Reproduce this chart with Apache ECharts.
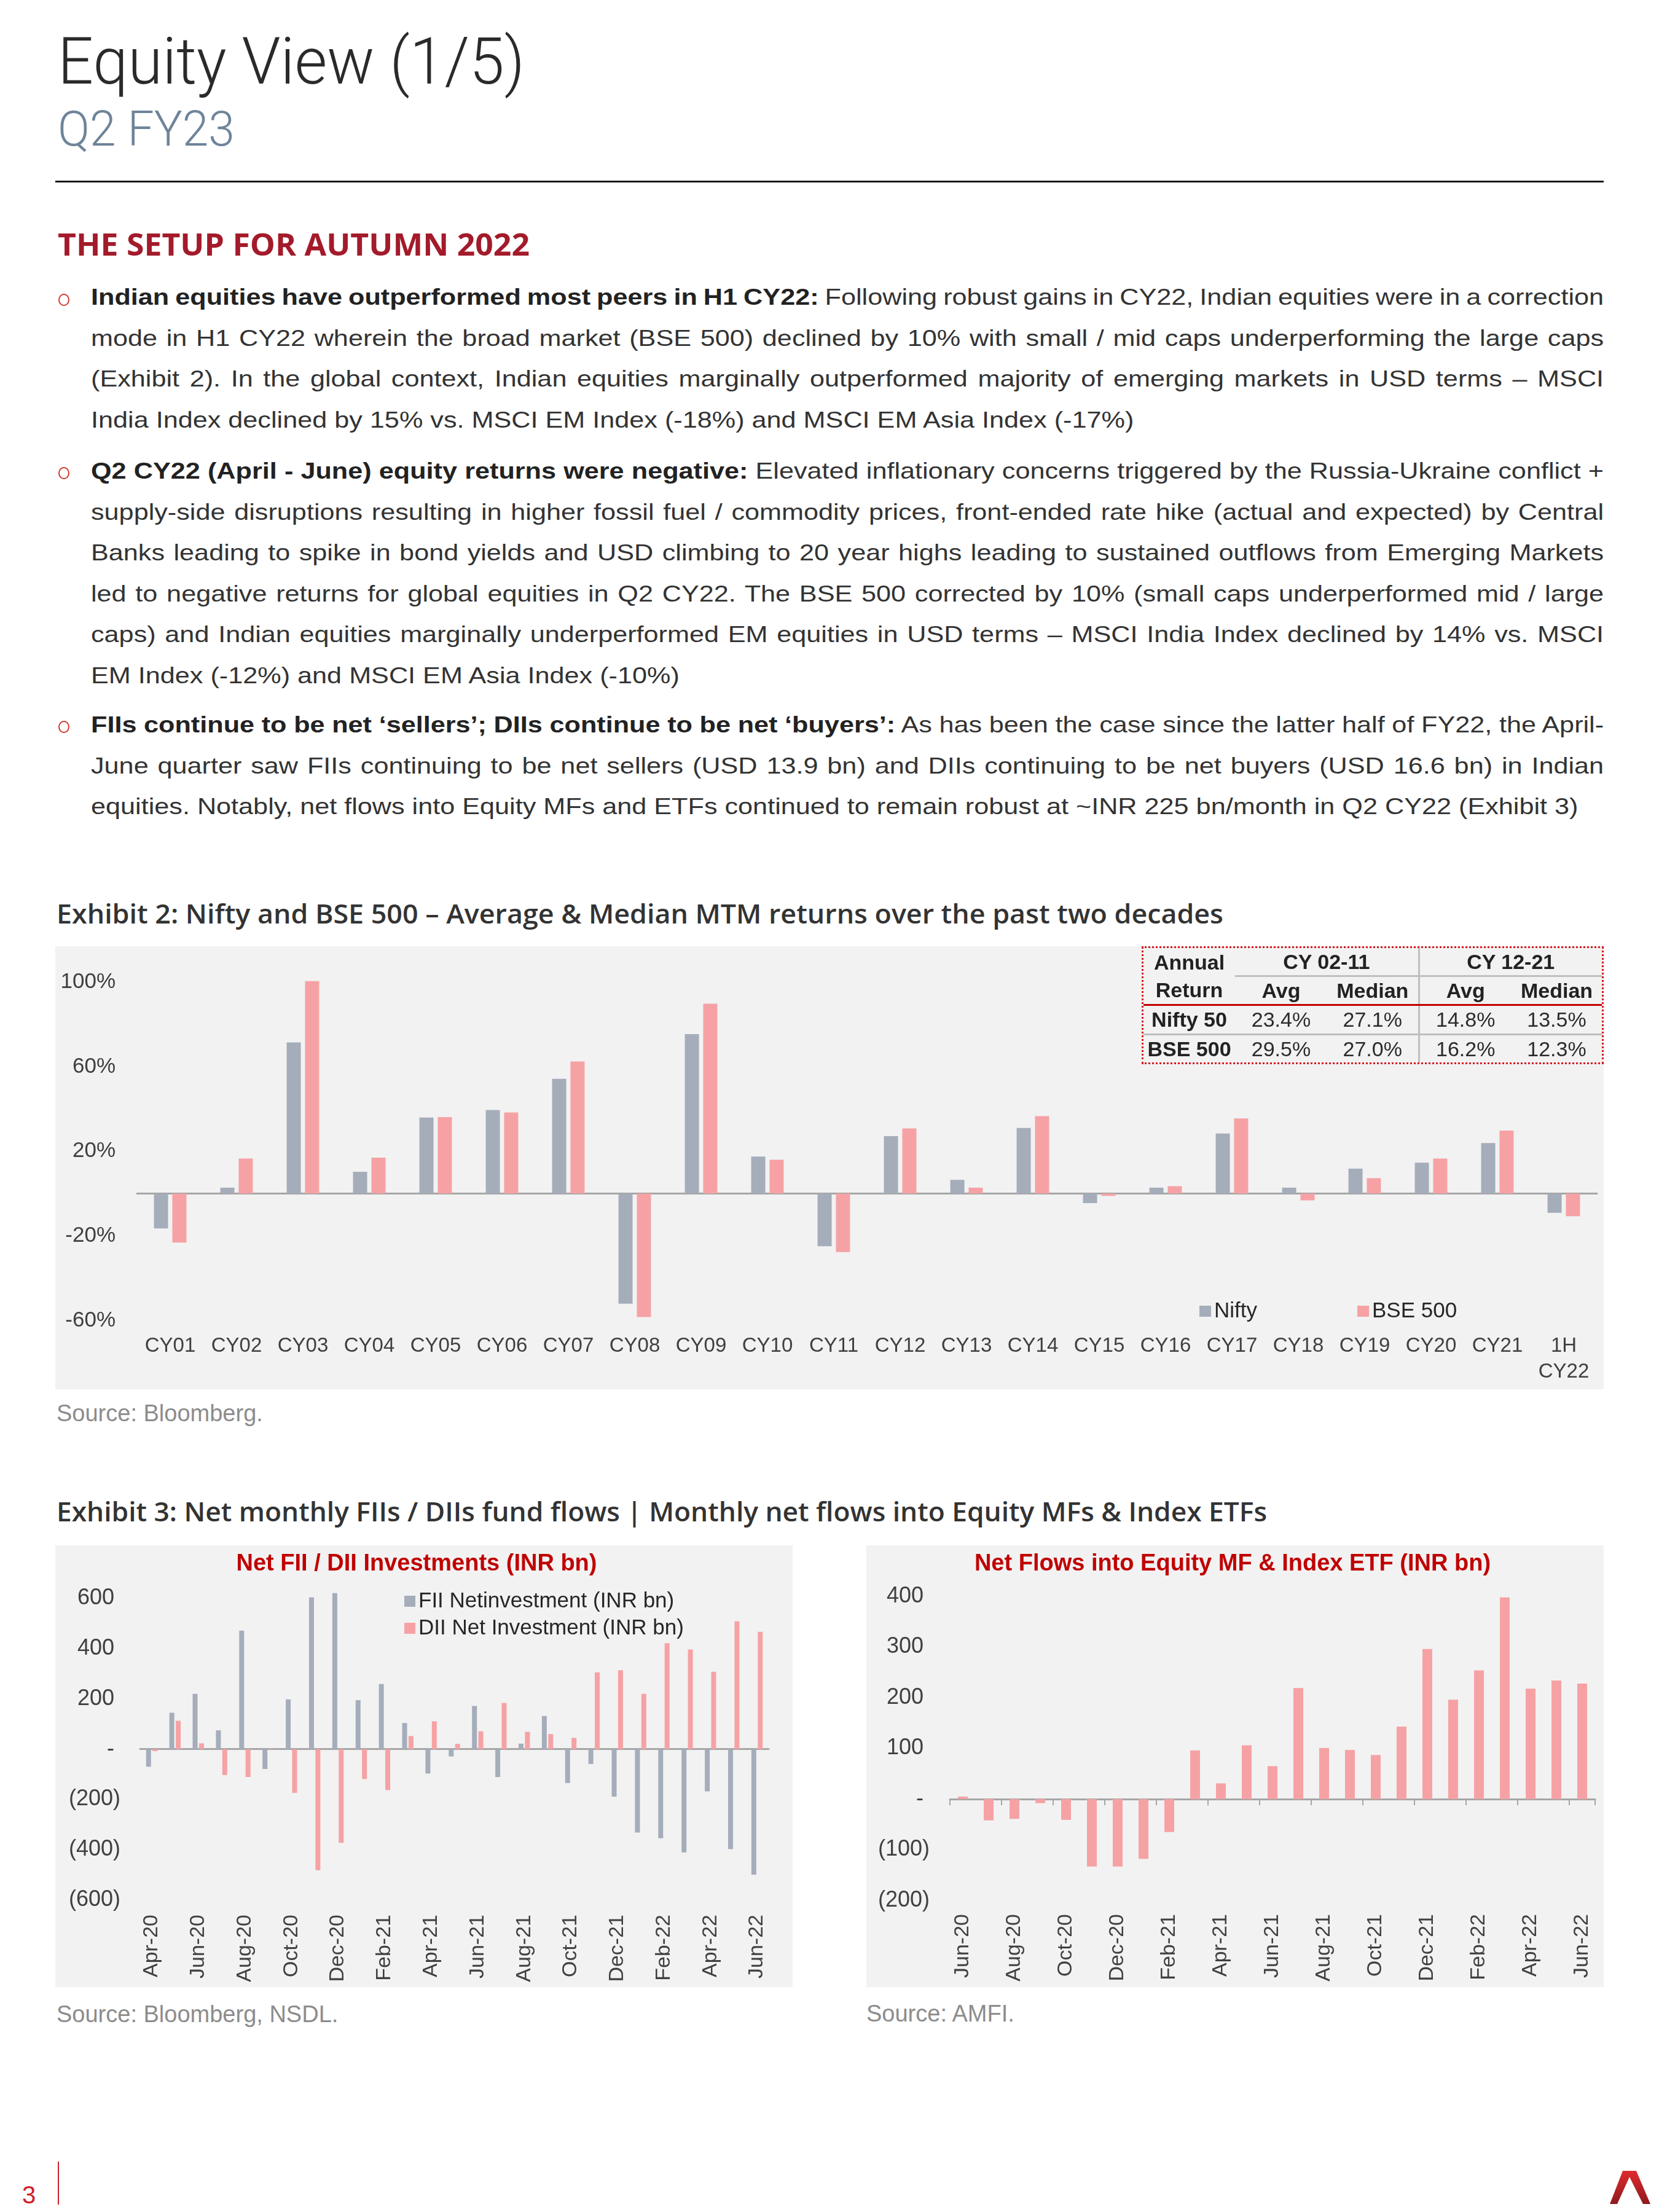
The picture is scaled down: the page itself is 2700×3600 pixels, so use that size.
<!DOCTYPE html>
<html>
<head>
<meta charset="utf-8">
<title>Equity View (1/5)</title>
<script src="https://cdn.jsdelivr.net/npm/echarts@6/dist/echarts.min.js"></script>
<style>
html,body{margin:0;padding:0;background:#fff;}
body{width:2700px;height:3600px;position:relative;overflow:hidden;font-family:'Liberation Sans',Arial,sans-serif;}
.t{position:absolute;white-space:nowrap;}
.t span{display:inline-block;transform-origin:0 50%;}
.para{position:absolute;left:148px;width:2462px;color:#333;font-size:37px;}
.para .ln{height:66.5px;line-height:66.5px;white-space:nowrap;}
.para .ln span{display:inline-block;transform-origin:0 50%;}
.para b{color:#222;font-weight:700;}
.bul{position:absolute;left:95px;width:18px;height:20px;border:2.5px solid #d0392e;border-radius:50%;box-sizing:border-box;}
.chart{position:absolute;background:#f2f2f2;}
#tbl{position:absolute;left:1858px;top:1540px;width:752px;height:192px;border:3px dotted #d7191f;box-sizing:border-box;z-index:5;}
#tbl table{border-collapse:collapse;table-layout:fixed;width:746px;height:186px;font-family:'Liberation Sans',Arial,sans-serif;font-size:34px;}
#tbl td{padding:0;text-align:center;vertical-align:middle;line-height:1;color:#2b2b2b;white-space:nowrap;overflow:visible;}
#tbl td.b{font-weight:700;color:#222;}
#tbl td.g{border-bottom:3px solid #bfbfbf;}
#tbl td.l{border-left:3px solid #bfbfbf;}
#tbl tr.red td{border-bottom:3px solid #c00000;}
#tbl tr.grey td{border-bottom:3px solid #bfbfbf;}
.src{position:absolute;color:#8c8c8c;font-size:38px;line-height:38px;white-space:nowrap;}
</style>
</head>
<body>

<div class="t" data-w="760" style="left:94px;top:47px;font:300 106px/106px Roboto,sans-serif;color:#2a2a2a;"><span>Equity View (1/5)</span></div>
<div class="t" data-w="288" style="left:94px;top:171px;font:300 79px/79px Roboto,sans-serif;color:#6e8499;"><span>Q2 FY23</span></div>
<div style="position:absolute;left:90px;top:294px;width:2520px;height:3px;background:#1a1a1a;"></div>
<div class="t" data-w="768" style="left:94px;top:372px;font:700 50px/50px 'Open Sans',sans-serif;color:#a31b2b;"><span>THE SETUP FOR AUTUMN 2022</span></div>

<div class="bul" style="top:478px;"></div>
<div class="para" style="top:451px;">
  <div class="ln"><span><b>Indian equities have outperformed most peers in H1 CY22:</b> Following robust gains in CY22, Indian equities were in a correction</span></div>
  <div class="ln"><span>mode in H1 CY22 wherein the broad market (BSE 500) declined by 10% with small / mid caps underperforming the large caps</span></div>
  <div class="ln"><span>(Exhibit 2). In the global context, Indian equities marginally outperformed majority of emerging markets in USD terms – MSCI</span></div>
  <div class="ln last"><span>India Index declined by 15% vs. MSCI EM Index (-18%) and MSCI EM Asia Index (-17%)</span></div>
</div>

<div class="bul" style="top:760px;"></div>
<div class="para" style="top:734px;">
  <div class="ln"><span><b>Q2 CY22 (April - June) equity returns were negative:</b> Elevated inflationary concerns triggered by the Russia-Ukraine conflict +</span></div>
  <div class="ln"><span>supply-side disruptions resulting in higher fossil fuel / commodity prices, front-ended rate hike (actual and expected) by Central</span></div>
  <div class="ln"><span>Banks leading to spike in bond yields and USD climbing to 20 year highs leading to sustained outflows from Emerging Markets</span></div>
  <div class="ln"><span>led to negative returns for global equities in Q2 CY22. The BSE 500 corrected by 10% (small caps underperformed mid / large</span></div>
  <div class="ln"><span>caps) and Indian equities marginally underperformed EM equities in USD terms – MSCI India Index declined by 14% vs. MSCI</span></div>
  <div class="ln last"><span>EM Index (-12%) and MSCI EM Asia Index (-10%)</span></div>
</div>

<div class="bul" style="top:1173px;"></div>
<div class="para" style="top:1147px;">
  <div class="ln"><span><b>FIIs continue to be net ‘sellers’; DIIs continue to be net ‘buyers’:</b> As has been the case since the latter half of FY22, the April-</span></div>
  <div class="ln"><span>June quarter saw FIIs continuing to be net sellers (USD 13.9 bn) and DIIs continuing to be net buyers (USD 16.6 bn) in Indian</span></div>
  <div class="ln last"><span>equities. Notably, net flows into Equity MFs and ETFs continued to remain robust at ~INR 225 bn/month in Q2 CY22 (Exhibit 3)</span></div>
</div>

<div class="t" data-w="1899" style="left:92px;top:1464px;font:600 44px/44px 'Open Sans',sans-serif;color:#333;"><span>Exhibit 2: Nifty and BSE 500 – Average &amp; Median MTM returns over the past two decades</span></div>

<div id="chartA" class="chart" style="left:90px;top:1540px;width:2520px;height:721px;"></div>

<div id="tbl">
<table>
<colgroup><col style="width:149px"><col style="width:150px"><col style="width:149px"><col style="width:151px"><col style="width:147px"></colgroup>
<tr style="height:45px"><td class="b">Annual</td><td class="b g" colspan="2">CY 02-11</td><td class="b g l" colspan="2">CY 12-21</td></tr>
<tr style="height:47px" class="red"><td class="b">Return</td><td class="b">Avg</td><td class="b">Median</td><td class="b l">Avg</td><td class="b">Median</td></tr>
<tr style="height:48px" class="grey"><td class="b">Nifty 50</td><td>23.4%</td><td>27.1%</td><td class="l">14.8%</td><td>13.5%</td></tr>
<tr style="height:46px"><td class="b">BSE 500</td><td>29.5%</td><td>27.0%</td><td class="l">16.2%</td><td>12.3%</td></tr>
</table>
</div>

<div class="src" style="left:92px;top:2281px;">Source: Bloomberg.</div>

<div class="t" data-w="1970" style="left:92px;top:2437px;font:600 44px/44px 'Open Sans',sans-serif;color:#333;"><span>Exhibit 3: Net monthly FIIs / DIIs fund flows | Monthly net flows into Equity MFs &amp; Index ETFs</span></div>

<div id="chartB" class="chart" style="left:90px;top:2515px;width:1200px;height:719px;"></div>
<div id="chartC" class="chart" style="left:1410px;top:2515px;width:1200px;height:719px;"></div>

<div class="src" style="left:92px;top:3259px;">Source: Bloomberg, NSDL.</div>
<div class="src" style="left:1410px;top:3258px;">Source: AMFI.</div>

<div style="position:absolute;left:36px;top:3552px;font:40px/40px 'Liberation Sans',Arial,sans-serif;color:#d0202a;">3</div>
<div style="position:absolute;left:94px;top:3518px;width:2px;height:70px;background:#d0202a;"></div>
<svg style="position:absolute;left:2618px;top:3530px;" width="70" height="60" viewBox="0 0 70 60">
  <defs><linearGradient id="lg" x1="0" y1="0" x2="0" y2="1"><stop offset="0" stop-color="#e02a2f"/><stop offset="1" stop-color="#8e1a1d"/></linearGradient></defs>
  <polygon points="23,3 45,3 68,57 56,57 34,13 14,57 2,57" fill="url(#lg)"/>
</svg>

<script>
// ---------- Exhibit 2 data ----------
const cyCategories = ['CY01','CY02','CY03','CY04','CY05','CY06','CY07','CY08','CY09','CY10','CY11',
  'CY12','CY13','CY14','CY15','CY16','CY17','CY18','CY19','CY20','CY21','1H\nCY22'];
const niftyReturns = [-16.5, 2.8, 71.5, 10.3, 36.0, 39.5, 54.3, -52.1, 75.4, 17.5, -24.9,
  27.2, 6.5, 31.0, -4.5, 2.8, 28.4, 2.8, 11.8, 14.6, 23.9, -9.1];
const bse500Returns = [-23.2, 16.6, 100.5, 17.0, 36.2, 38.4, 62.5, -58.4, 89.8, 16.0, -27.7,
  30.8, 2.8, 36.6, -1.1, 3.5, 35.5, -3.2, 7.3, 16.6, 29.8, -10.7];

// ---------- Exhibit 3 (left) data ----------
const flowMonths = ['Apr-20','May-20','Jun-20','Jul-20','Aug-20','Sep-20','Oct-20','Nov-20','Dec-20',
  'Jan-21','Feb-21','Mar-21','Apr-21','May-21','Jun-21','Jul-21','Aug-21','Sep-21','Oct-21','Nov-21','Dec-21',
  'Jan-22','Feb-22','Mar-22','Apr-22','May-22','Jun-22'];
const fiiNet = [-70, 145, 220, 75, 472, -79, 198, 604, 621, 195, 259, 104, -97, -29, 172, -111, 22, 132,
  -135, -59, -189, -332, -355, -411, -168, -398, -500];
const diiNet = [-8, 113, 23, -103, -111, 2, -174, -482, -373, -119, -163, 52, 111, 21, 71, 184, 69, 60,
  45, 306, 314, 220, 422, 397, 308, 509, 467];

// ---------- Exhibit 3 (right) data ----------
const mfMonths = ['Jun-20','Jul-20','Aug-20','Sep-20','Oct-20','Nov-20','Dec-20','Jan-21','Feb-21','Mar-21',
  'Apr-21','May-21','Jun-21','Jul-21','Aug-21','Sep-21','Oct-21','Nov-21','Dec-21','Jan-22','Feb-22','Mar-22',
  'Apr-22','May-22','Jun-22'];
const mfEtfFlows = [5, -42, -39, -8, -41, -133, -133, -118, -65, 96, 31, 106, 65, 219, 101, 97, 87, 143,
  296, 196, 254, 398, 218, 234, 228];

const GREY = '#a5adbb', PINK = '#f6a2a5', AXIS = '#a6a6a6', LBL = '#404040';
const FONT = "'Liberation Sans', Arial, sans-serif";
const acct = v => v === 0 ? '- ' : (v < 0 ? '(' + (-v) + ')' : v + ' ');

// ---------- Chart A ----------
const chartA = echarts.init(document.getElementById('chartA'));
chartA.setOption({
  animation: false,
  backgroundColor: '#f2f2f2',
  textStyle: { fontFamily: FONT },
  legend: {
    left: 1857, top: 569, itemWidth: 19, itemHeight: 18, itemGap: 163, icon: 'rect',
    textStyle: { fontSize: 35, color: '#262626', lineHeight: 40, fontFamily: FONT },
    data: ['Nifty', 'BSE 500']
  },
  grid: { left: 133, right: 11, top: 24, bottom: 112 },
  xAxis: [
    { type: 'category', data: cyCategories, position: 'bottom',
      axisLine: { show: false, onZero: false }, axisTick: { show: false },
      axisLabel: { fontSize: 33, color: LBL, margin: 21, lineHeight: 42, interval: 0, fontFamily: FONT } },
    { type: 'category', data: cyCategories, position: 'top',
      axisLine: { show: true, onZero: true, lineStyle: { color: AXIS, width: 3 } },
      axisTick: { show: false }, axisLabel: { show: false } }
  ],
  yAxis: {
    type: 'value', min: -60, max: 110, interval: 40,
    splitLine: { show: false }, axisLine: { show: false }, axisTick: { show: false },
    axisLabel: { fontSize: 35, color: LBL, margin: 35, showMaxLabel: false, fontFamily: FONT,
      formatter: v => v + '%' }
  },
  series: [
    { name: 'Nifty', type: 'bar', xAxisIndex: 0, data: niftyReturns, barWidth: 23, barGap: '30%',
      itemStyle: { color: GREY } },
    { name: 'BSE 500', type: 'bar', xAxisIndex: 0, data: bse500Returns, barWidth: 23, barGap: '30%',
      itemStyle: { color: PINK } }
  ]
});

// ---------- Chart B ----------
const chartB = echarts.init(document.getElementById('chartB'));
chartB.setOption({
  animation: false,
  backgroundColor: '#f2f2f2',
  textStyle: { fontFamily: FONT },
  graphic: [{ type: 'text', x: 588, y: 31,
    style: { text: 'Net FII / DII Investments (INR bn)', fill: '#c00000', font: "bold 38px " + FONT,
      textAlign: 'center', textVerticalAlign: 'middle' } }],
  legend: {
    orient: 'vertical', left: 563, top: 66, itemWidth: 18, itemHeight: 18, itemGap: 4, icon: 'rect',
    textStyle: { fontSize: 35, color: '#262626', lineHeight: 40, fontFamily: FONT },
    data: ['FII Netinvestment (INR bn)', 'DII Net Investment (INR bn)']
  },
  grid: { left: 138, right: 39, top: 66, bottom: 142 },
  xAxis: [
    { type: 'category', data: flowMonths, position: 'bottom',
      axisLine: { show: false, onZero: false }, axisTick: { show: false },
      axisLabel: { fontSize: 34, color: LBL, margin: 24, rotate: 90, interval: 1, fontFamily: FONT } },
    { type: 'category', data: flowMonths, position: 'top',
      axisLine: { show: true, onZero: true, lineStyle: { color: AXIS, width: 3 } },
      axisTick: { show: false }, axisLabel: { show: false } }
  ],
  yAxis: {
    type: 'value', min: -600, max: 650, interval: 200,
    splitLine: { show: false }, axisLine: { show: false }, axisTick: { show: false },
    axisLabel: { fontSize: 36, color: LBL, margin: 32, showMaxLabel: false, fontFamily: FONT, formatter: acct }
  },
  series: [
    { name: 'FII Netinvestment (INR bn)', type: 'bar', xAxisIndex: 0, data: fiiNet, barWidth: 8, barGap: '30%',
      itemStyle: { color: GREY } },
    { name: 'DII Net Investment (INR bn)', type: 'bar', xAxisIndex: 0, data: diiNet, barWidth: 8, barGap: '30%',
      itemStyle: { color: PINK } }
  ]
});

// ---------- Chart C ----------
const chartC = echarts.init(document.getElementById('chartC'));
chartC.setOption({
  animation: false,
  backgroundColor: '#f2f2f2',
  textStyle: { fontFamily: FONT },
  graphic: [{ type: 'text', x: 596, y: 31,
    style: { text: 'Net Flows into Equity MF & Index ETF (INR bn)', fill: '#c00000', font: "bold 38px " + FONT,
      textAlign: 'center', textVerticalAlign: 'middle' } }],
  grid: { left: 136, right: 14, top: 83, bottom: 141 },
  xAxis: [
    { type: 'category', data: mfMonths, position: 'bottom',
      axisLine: { show: false, onZero: false }, axisTick: { show: false },
      axisLabel: { fontSize: 34, color: LBL, margin: 22, rotate: 90, interval: 1, fontFamily: FONT } },
    { type: 'category', data: mfMonths, position: 'top',
      axisLine: { show: true, onZero: true, lineStyle: { color: AXIS, width: 3 } },
      axisTick: { show: true, inside: true, length: 10, interval: 1, lineStyle: { color: AXIS, width: 2 } },
      axisLabel: { show: false } }
  ],
  yAxis: {
    type: 'value', min: -200, max: 400, interval: 100,
    splitLine: { show: false }, axisLine: { show: false }, axisTick: { show: false },
    axisLabel: { fontSize: 36, color: LBL, margin: 33, fontFamily: FONT, formatter: acct }
  },
  series: [
    { name: 'Net Flows', type: 'bar', xAxisIndex: 0, data: mfEtfFlows, barWidth: 16,
      itemStyle: { color: PINK } }
  ]
});

// ---------- text fitting ----------
function fitTexts() {
  document.querySelectorAll('.t[data-w]').forEach(el => {
    const sp = el.firstElementChild;
    sp.style.transform = 'none';
    const w = sp.getBoundingClientRect().width;
    const target = parseFloat(el.getAttribute('data-w'));
    if (w > 0) sp.style.transform = 'scaleX(' + (target / w).toFixed(4) + ')';
  });
  const W = 2462;
  const lines = [...document.querySelectorAll('.para .ln')];
  const ratios = [];
  lines.forEach(l => {
    const sp = l.firstElementChild;
    sp.style.transform = 'none'; sp.style.wordSpacing = '0px';
    l._w = sp.getBoundingClientRect().width;
    l._n = (sp.textContent.match(/ /g) || []).length;
    if (!l.classList.contains('last')) ratios.push(W / l._w);
  });
  ratios.sort((a, b) => a - b);
  let s = ratios[Math.floor(ratios.length / 2)];
  s = Math.min(s, ratios[0] * 1.015);
  lines.forEach(l => {
    const sp = l.firstElementChild;
    if (!l.classList.contains('last') && l._n > 0) {
      const extra = W / s - l._w;
      sp.style.wordSpacing = (extra / l._n).toFixed(3) + 'px';
    }
    sp.style.transform = 'scaleX(' + s.toFixed(4) + ')';
  });
}
fitTexts();
if (document.fonts && document.fonts.ready) document.fonts.ready.then(fitTexts);
</script>
</body>
</html>
